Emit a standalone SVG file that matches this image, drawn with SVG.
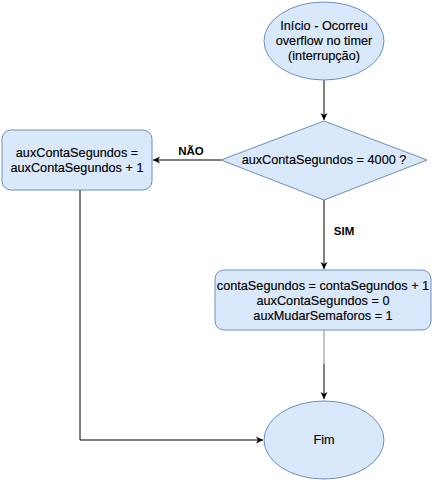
<svg xmlns="http://www.w3.org/2000/svg" width="433" height="481" viewBox="0 0 433 481">
<style>
.n{fill:#dae8fc;stroke:#6c8ebf;stroke-width:1}
.t{font-family:"Liberation Sans",Arial,sans-serif;font-size:12.7px;fill:#000;text-anchor:middle;stroke:#000;stroke-width:0.15}
.l{font-family:"Liberation Sans",Arial,sans-serif;font-size:11.5px;font-weight:bold;fill:#000;text-anchor:middle}
.c{fill:none;stroke:#000;stroke-width:1}
</style>
<defs>
<marker id="a" markerWidth="8" markerHeight="8" refX="7" refY="4" orient="auto" markerUnits="userSpaceOnUse">
<path d="M0,0.5 L7,4 L0,7.5 L2,4 Z" fill="#000"/>
</marker>
</defs>
<rect width="433" height="481" fill="#fff"/>
<g id="connectors">
<path class="c" d="M324,80 V120" marker-end="url(#a)"/>
<path class="c" d="M221,160 H153" marker-end="url(#a)"/>
<path class="c" d="M324,200 V269" marker-end="url(#a)"/>
<path d="M324,330 V364" fill="none" stroke="#888" stroke-width="1"/>
<path class="c" d="M324,364 V399" marker-end="url(#a)"/>
<path class="c" d="M80,190 V440 H263" marker-end="url(#a)"/>
<text class="l" x="191" y="155">NÃO</text>
<text class="l" x="344" y="235">SIM</text>
</g>
<g id="inicio">
<ellipse class="n" cx="324" cy="41" rx="60" ry="39"/>
<text class="t" x="324" y="30">Início - Ocorreu</text>
<text class="t" x="324" y="45">overflow no timer</text>
<text class="t" x="324" y="60">(interrupção)</text>
</g>
<g id="decisao">
<path class="n" d="M324,121 L427,160 L324,200 L221,160 Z"/>
<text class="t" x="324" y="164">auxContaSegundos = 4000 ?</text>
</g>
<g id="incrementa">
<rect class="n" x="2" y="130" width="150" height="60" rx="9"/>
<text class="t" x="77" y="157">auxContaSegundos =</text>
<text class="t" x="77" y="172">auxContaSegundos + 1</text>
</g>
<g id="reset">
<rect class="n" x="215" y="270" width="216" height="60" rx="9"/>
<text class="t" x="323" y="290">contaSegundos = contaSegundos + 1</text>
<text class="t" x="323" y="305">auxContaSegundos = 0</text>
<text class="t" x="323" y="320">auxMudarSemaforos = 1</text>
</g>
<g id="fim">
<ellipse class="n" cx="324" cy="440" rx="60" ry="39"/>
<text class="t" x="324" y="444">Fim</text>
</g>
</svg>
